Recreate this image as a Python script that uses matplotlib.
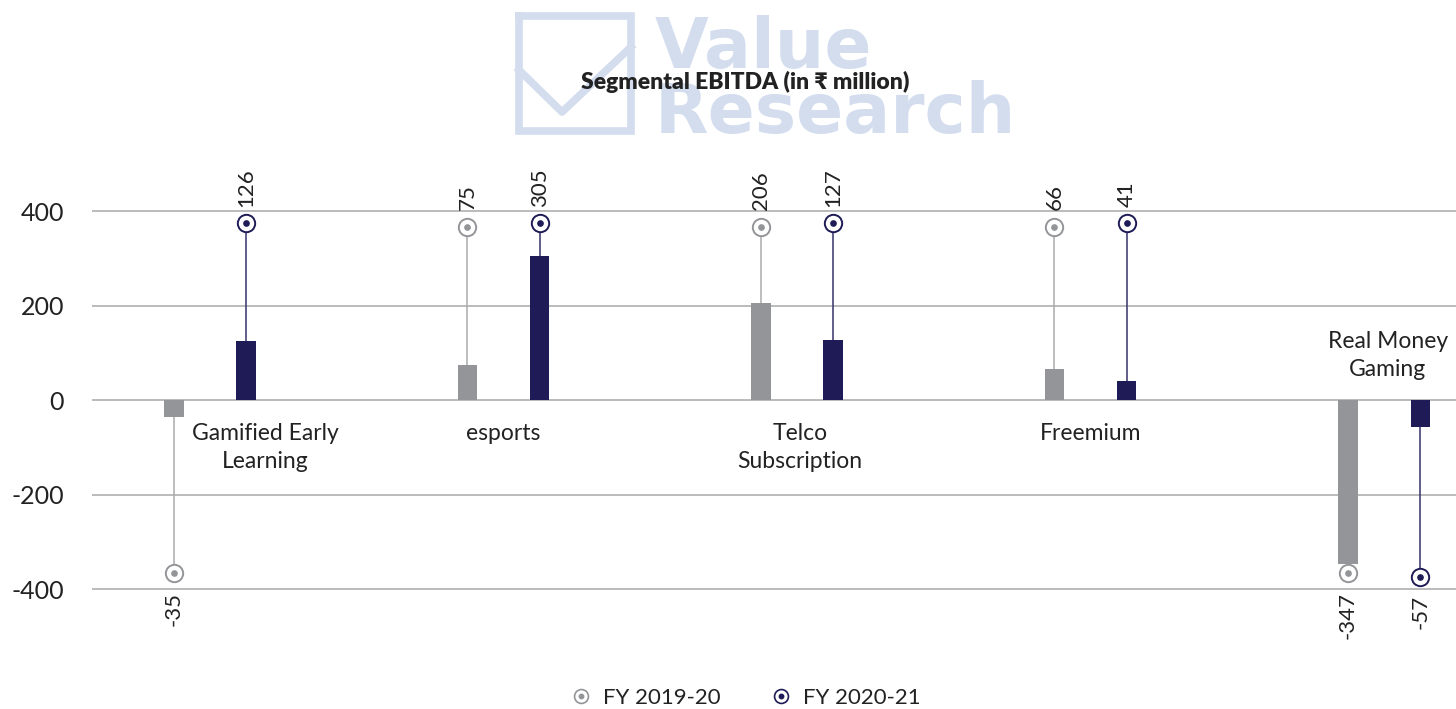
import matplotlib
matplotlib.use('Agg')
import matplotlib.pyplot as plt
from matplotlib.lines import Line2D
import numpy as np

plt.rcParams['font.family'] = ['Lato', 'DejaVu Sans']

# data
categories = ['Gamified Early\nLearning', 'esports', 'Telco\nSubscription',
              'Freemium', 'Real Money\nGaming']
fy20 = [-35, 75, 206, 66, -347]
fy21 = [126, 305, 127, 41, -57]
series_names = ['FY 2019-20', 'FY 2020-21']
yticks = [-400, -200, 0, 200, 400]

GRAY = '#939598'
GRAY_STEM = '#ababab'
NAVY = '#1e1b56'
NAVY_STEM = '#35336b'
GRID = '#b5b5b5'
WATER = '#d3ddee'
TXT = '#222222'

fig = plt.figure(figsize=(14.56, 7.09), dpi=100)
ax = fig.add_axes([92 / 1456, 110.5 / 709, 1364 / 1456, 396.9 / 709])
ax.set_ylim(-420, 420)
ax.set_xlim(-0.402, 4.245)

# watermark (behind everything)
px = lambda x, y: (x / 1456, 1 - y / 709)
fig.text(*px(655, 68), 'Value', fontsize=50, fontweight='bold',
         color=WATER, family=['DejaVu Sans'], ha='left', va='baseline', zorder=0)
fig.text(*px(655, 133), 'Research', fontsize=50, fontweight='bold',
         color=WATER, family=['DejaVu Sans'], ha='left', va='baseline', zorder=0)
box = [px(519, 16), px(631, 16), px(631, 131), px(519, 131), px(519, 16)]
fig.add_artist(Line2D([p[0] for p in box], [p[1] for p in box], color=WATER,
                      lw=5.5, solid_joinstyle='miter', zorder=0))
chk = [px(519, 70), px(562, 112), px(631, 47)]
fig.add_artist(Line2D([p[0] for p in chk], [p[1] for p in chk], color=WATER,
                      lw=5.5, zorder=0))

fig.text(*px(745, 82), 'Segmental EBITDA (in ₹ million)',
         fontsize=16.5, fontweight='heavy', color=TXT, ha='center',
         va='center')

# grid and axes styling
ax.set_yticks(yticks)
ax.set_yticklabels([str(t) for t in yticks])
ax.set_xticks([])
for s in ax.spines.values():
    s.set_visible(False)
ax.tick_params(axis='y', length=0, pad=20, labelsize=18, labelcolor=TXT)
ax.grid(axis='y', color=GRID, lw=1.3)
ax.set_axisbelow(True)
ax.patch.set_alpha(0)

x = np.arange(len(categories))
off = 0.123
width = 0.066

specs = [(fy20, -off, GRAY, GRAY_STEM, 367),
         (fy21, off, NAVY, NAVY_STEM, 374)]
for vals, dx, col, stem_col, mk in specs:
    xs = x + dx
    ax.bar(xs, vals, width=width, color=col, zorder=3)
    for xi, v in zip(xs, vals):
        end = mk if v >= 0 else -mk
        ax.plot([xi, xi], [v, end], color=stem_col, lw=1.1, zorder=2)
        ax.plot(xi, end, 'o', ms=12.5, mfc='white', mec=col, mew=1.4,
                zorder=4, clip_on=False)
        ax.plot(xi, end, 'o', ms=3.8, color=col, zorder=5, clip_on=False)
        if v >= 0:
            ax.annotate(str(v), (xi, end), xytext=(0, 12),
                        textcoords='offset points', rotation=90, ha='center',
                        va='bottom', fontsize=16, color=TXT)
        else:
            ax.annotate(str(v), (xi, end), xytext=(0, -13),
                        textcoords='offset points', rotation=90, ha='center',
                        va='top', fontsize=16, color=TXT)

# category labels
label_dx = [0.187, 0, 0.01, 0, 0.012]
for xi, name, ddx, a, b in zip(x, categories, label_dx, fy20, fy21):
    if a < 0 and b < 0:
        ax.text(xi + ddx, 42, name, ha='center', va='bottom', fontsize=16.5,
                color=TXT, linespacing=1.45)
    else:
        ax.text(xi + ddx, -48, name, ha='center', va='top', fontsize=16.5,
                color=TXT, linespacing=1.45)

# legend
handles = []
for col in [GRAY, NAVY]:
    ring = Line2D([], [], ls='', marker='o', ms=10, mfc='white', mec=col, mew=1.2)
    dot = Line2D([], [], ls='', marker='o', ms=3.2, color=col)
    handles.append((ring, dot))
fig.legend(handles, series_names, loc='center', bbox_to_anchor=(745 / 1456, 11 / 709),
           ncol=2, frameon=False, fontsize=16, handlelength=1.0,
           handletextpad=0.5, columnspacing=2.2, labelcolor=TXT)

fig.savefig('out.png', dpi=100)
